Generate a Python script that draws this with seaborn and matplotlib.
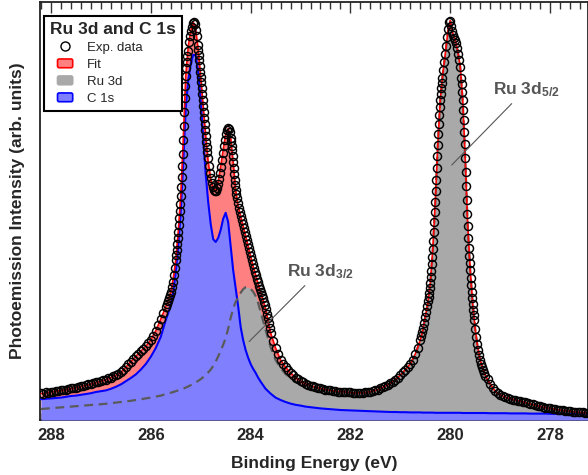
import numpy as np
import matplotlib
matplotlib.use("Agg")
import matplotlib.pyplot as plt
import matplotlib.patches as mpatches
from matplotlib.lines import Line2D
from matplotlib.legend_handler import HandlerPatch
from matplotlib.ticker import MultipleLocator
import seaborn as sns

# ---------------- data (binding energy in eV, intensity in arb. units) ----------------
# measurement grid of the experimental data: (start, stop, number of points);
# the steps are finer across the steep peak flanks
data_grid = [
    (288.20, 285.75, 50), (285.70, 285.52, 10), (285.50, 285.26, 25), (285.24, 285.08, 9),
    (285.06, 284.86, 21), (284.84, 284.42, 22), (284.40, 284.28, 13), (284.26, 283.60, 34),
    (283.55, 280.65, 59), (280.60, 280.46, 8), (280.44, 280.16, 29), (280.14, 279.80, 18),
    (279.78, 279.52, 27), (279.50, 279.30, 11), (279.25, 277.20, 42),
]
data_be = np.round(np.concatenate([np.linspace(a, b, n) for a, b, n in data_grid]), 2)

exp_data = [
    # 288.20 ... 285.75
    6.7, 6.5, 6.9, 6.8, 7.0, 7.1, 7.2, 7.3, 7.4, 7.5, 7.6, 7.8, 7.9, 8.0, 8.1, 8.3, 8.4, 8.5, 8.7, 8.9,
    9.0, 9.2, 9.4, 9.6, 9.8, 9.9, 10.1, 10.4, 10.6, 10.9, 11.3, 11.6, 12.0, 12.6, 13.2, 13.9, 14.6, 15.2, 15.9, 16.6,
    17.2, 17.8, 18.5, 19.2, 20.0, 21.1, 22.3, 23.7, 25.2, 26.8,
    # 285.70 ... 285.52
    28.3, 29.0, 29.7, 30.5, 31.2, 32.0, 33.2, 34.6, 36.2, 38.0,
    # 285.50 ... 285.26
    40.0, 41.3, 42.6, 44.0, 45.5, 47.1, 48.8, 50.5, 52.2, 54.0, 56.0, 58.3, 60.8, 63.5, 66.5, 70.0,
    73.5, 77.0, 80.5, 83.5, 86.0, 88.0, 89.5, 91.0, 92.3,
    # 285.24 ... 285.08
    94.5, 96.0, 97.2, 98.3, 99.3, 99.6, 98.9, 97.6, 95.9,
    # 285.06 ... 284.86
    93.8, 92.6, 91.3, 89.9, 88.5, 87.1, 85.8, 84.4, 82.9, 81.5, 80.0, 78.5, 77.0, 75.5, 74.0, 72.5,
    71.0, 69.6, 68.2, 66.9, 65.6,
    # 284.84 ... 284.42
    63.5, 61.8, 60.4, 59.2, 58.2, 57.6, 57.2, 57.3, 57.9, 58.9, 60.2, 61.7, 63.3, 65.0, 66.7, 68.4,
    70.0, 71.4, 72.4, 72.9, 72.8, 72.0,
    # 284.40 ... 284.28
    70.6, 69.7, 68.6, 67.4, 66.0, 64.5, 63.0, 61.5, 60.0, 58.7, 57.5, 56.5, 55.6,
    # 284.26 ... 283.60
    54.2, 53.0, 52.0, 51.0, 50.0, 49.0, 48.0, 47.0, 46.0, 45.0, 44.0, 43.0, 42.0, 41.0, 40.0, 39.0,
    38.0, 37.1, 36.2, 35.3, 34.4, 33.6, 32.8, 32.0, 31.2, 30.4, 29.6, 28.7, 27.8, 26.6, 25.4, 24.2,
    23.0, 21.8,
    # 283.55 ... 280.65
    19.8, 18.0, 16.4, 15.0, 14.0, 13.2, 12.5,
    11.8, 11.2, 10.6, 10.2, 9.8, 9.4, 9.1, 8.8, 8.6, 8.4, 8.2, 8.0, 7.9, 7.7, 7.6, 7.5, 7.4, 7.3, 7.2, 7.1,
    7.1, 7.0, 7.0, 6.9, 6.9, 6.8, 6.8, 6.7, 6.8, 6.8, 6.9, 7.0, 7.1, 7.2, 7.4, 7.6, 7.9, 8.2, 8.5, 8.8,
    9.2, 9.6, 10.1, 10.6, 11.2, 11.9, 12.6, 13.3, 14.0, 15.0, 16.5, 18.1,
    # 280.60 ... 280.46
    20.0, 21.0, 22.0, 23.0, 24.3, 25.8, 27.0, 28.4,
    # 280.44 ... 280.16
    29.8, 30.7, 31.8, 33.0, 34.2, 35.7, 37.3, 39.0, 40.8, 42.7, 44.8, 47.1, 49.5, 52.0, 54.5, 57.2,
    60.0, 63.0, 66.0, 68.8, 71.5, 74.0, 76.2, 78.2, 80.0, 81.6, 83.0, 84.3, 85.5,
    # 280.14 ... 279.80
    87.6, 89.5, 91.5, 93.6, 95.8, 97.8, 99.4, 99.8, 98.6, 97.2, 96.2, 95.5, 95.0, 94.2, 93.0, 91.5,
    90.0, 88.3,
    # 279.78 ... 279.52
    85.5, 83.9, 82.0, 79.9, 77.5, 74.9, 72.0, 68.9, 65.5, 62.0, 58.5, 55.0, 51.5, 48.4, 45.5, 43.1,
    41.0, 39.2, 37.5, 35.6, 33.8, 32.1, 30.5, 29.0, 27.5, 26.2, 25.0,
    # 279.50 ... 279.30
    22.8, 20.8, 19.0, 17.5, 16.2, 15.0, 14.0, 13.2, 12.4, 11.7, 11.0,
    # 279.25 ... 277.20
    10.2,
    9.0, 8.0, 7.2, 6.7, 6.3, 6.0, 5.7, 5.5, 5.3, 5.1, 5.0, 4.8, 4.7, 4.5, 4.4, 4.2, 4.0, 3.9, 3.7, 3.5,
    3.4, 3.3, 3.1, 3.0, 2.9, 2.8, 2.7, 2.6, 2.5, 2.4, 2.3, 2.3, 2.2, 2.1, 2.0, 2.0, 1.9, 1.9, 1.8, 1.8,
    1.75,
]

# grid of the fitted curves
curve_grid = [(288.2, 285.7, 26), (285.65, 283.85, 37), (283.8, 280.6, 33),
              (280.55, 279.35, 25), (279.3, 277.2, 22)]
curve_be = np.round(np.concatenate([np.linspace(a, b, n) for a, b, n in curve_grid]), 2)

fit_total = [
    6.6, 6.8, 7.0, 7.2, 7.4, 7.6, 7.9, 8.1, 8.4, 8.7, 9.0, 9.4, 9.7, 10.1, 10.6, 11.2, 11.9, 13.2, 14.6, 15.9,
    17.2, 18.4, 20.0, 22.3, 25.2, 28.3,
    30.1, 32.0, 35.4, 40.0, 47.1, 56.0, 70.0, 86.0, 93.4, 97.2, 99.5, 97.6, 92.6, 85.8, 78.5, 71.0, 64.5, 60.4,
    57.9, 57.3, 59.5, 63.3, 67.5, 71.4, 72.9, 70.6, 64.5, 57.5, 53.5, 51.0, 48.5, 46.0, 43.5, 41.0, 38.5, 36.2, 34.0,
    32.0, 27.8, 21.8, 18.0, 15.0, 13.2, 11.8, 10.6, 9.8, 9.1, 8.6, 8.2, 7.9, 7.6, 7.4, 7.2, 7.1, 7.0, 6.9, 6.8,
    6.8, 6.9, 7.1, 7.4, 7.9, 8.5, 9.2, 10.1, 11.2, 12.6, 14.0, 16.5, 20.0,
    22.5, 25.8, 29.1, 34.2, 42.8, 54.5, 68.8, 80.0, 86.6, 91.5, 96.8, 99.8, 96.7, 95.0, 92.3, 88.3, 79.8, 65.5,
    48.5, 37.5, 29.0, 22.8, 18.2, 15.0, 13.0,
    11.2, 9.0, 7.2, 6.3, 5.7, 5.3, 5.0, 4.7, 4.4, 4.0, 3.7, 3.4, 3.1, 2.9, 2.7, 2.5, 2.3, 2.2, 2.0, 1.9, 1.8, 1.75,
]

ru_3d = [
    2.75, 2.85, 2.95, 3.05, 3.15, 3.25, 3.35, 3.45, 3.55, 3.65, 3.75, 3.85, 3.95, 4.05, 4.2, 4.35, 4.5, 4.65, 4.8, 5.0,
    5.2, 5.4, 5.6, 5.85, 6.1, 6.45,
    6.6, 6.8, 7.0, 7.2, 7.4, 7.6, 7.85, 8.1, 8.4, 8.7, 9.05, 9.4, 9.8, 10.2, 10.7, 11.2, 11.9, 12.6,
    13.5, 14.6, 15.9, 17.3, 18.8, 20.5, 22.8, 25.5, 27.8, 29.5, 30.8, 31.8, 32.7, 33.2, 33.2, 32.8, 32.1, 31.0, 29.3,
    27.0, 22.5, 18.2, 15.0, 13.0, 11.5, 10.4, 9.6, 9.0, 8.6, 8.3, 8.0, 7.7, 7.45, 7.25, 7.05, 6.9, 6.8, 6.7, 6.65,
    6.65, 6.75, 6.95, 7.25, 7.75, 8.35, 9.05, 9.95, 11.05, 12.45, 13.9, 16.4, 19.9,
    22.4, 25.7, 29.0, 34.1, 42.7, 54.4, 68.7, 79.9, 86.5, 91.4, 96.7, 99.7, 96.6, 94.9, 92.2, 88.2, 79.7, 65.4,
    48.4, 37.4, 28.9, 22.7, 18.1, 14.9, 12.9,
    11.1, 8.9, 7.1, 6.2, 5.6, 5.2, 4.9, 4.6, 4.3, 3.9, 3.6, 3.3, 3.0, 2.8, 2.6, 2.4, 2.2, 2.1, 1.9, 1.8, 1.7, 1.65,
]

c_1s = [
    5.2, 5.3, 5.4, 5.5, 5.6, 5.8, 6.0, 6.1, 6.3, 6.5, 6.7, 7.0, 7.2, 7.4, 7.8, 8.3, 8.9, 9.7, 10.5, 11.4,
    12.6, 14.0, 15.8, 18.0, 20.8, 25.0,
    26.8, 28.7, 32.0, 37.0, 43.5, 52.0, 64.0, 78.0, 85.0, 89.0, 91.3, 91.2, 87.0, 80.0, 70.5, 61.5, 54.5, 49.0,
    45.2, 44.5, 45.5, 47.5, 50.3, 51.8, 49.5, 43.5, 37.5, 33.0, 28.5, 23.3, 20.0, 17.5, 15.6, 14.0, 12.8, 11.8, 10.6,
    9.6, 7.8, 6.6, 5.6, 5.0, 4.5, 4.1, 3.8, 3.6, 3.35, 3.2, 3.05, 2.9, 2.8, 2.7, 2.6, 2.5, 2.45, 2.4, 2.35,
    2.3, 2.25, 2.2, 2.15, 2.1, 2.05, 2.0, 2.0, 1.95, 1.95, 1.9, 1.9, 1.9,
    1.85, 1.85, 1.85, 1.85, 1.85, 1.8, 1.8, 1.8, 1.8, 1.8, 1.8, 1.8, 1.8, 1.8, 1.8, 1.8, 1.75, 1.75,
    1.75, 1.75, 1.75, 1.75, 1.75, 1.75, 1.75,
    1.75, 1.7, 1.7, 1.7, 1.7, 1.65, 1.65, 1.65, 1.65, 1.6, 1.6, 1.6, 1.6, 1.55, 1.55, 1.55, 1.55, 1.5, 1.5, 1.5, 1.5, 1.5,
]

xtick_vals = [288, 286, 284, 282, 280, 278]
xtick_labels = ["288", "286", "284", "282", "280", "278"]
legend_labels = ["Exp. data", "Fit", "Ru 3d", "C 1s"]
legend_title = "Ru 3d and C 1s"
peak_labels = [r"Ru 3d$_{5/2}$", r"Ru 3d$_{3/2}$"]

# ---------------- style ----------------
sns.set_style("ticks")
plt.rcParams['font.family'] = ['Liberation Sans', 'DejaVu Sans']
plt.rcParams['mathtext.fontset'] = 'custom'
plt.rcParams['mathtext.rm'] = 'Liberation Sans:bold'
plt.rcParams['mathtext.it'] = 'Liberation Sans:bold'
plt.rcParams['mathtext.bf'] = 'Liberation Sans:bold'

RED_FILL, RED_LINE = '#FF8080', '#FF0000'
GRAY_FILL, GRAY_LINE = '#A9A9A9', '#5A5A5A'
BLUE_FILL, BLUE_LINE = '#8080FF', '#0000FF'

fig = plt.figure(figsize=(5.88, 4.75), dpi=100)
ax = fig.add_axes([40 / 588, 1 - 420 / 475, 548 / 588, 418 / 475])

# fills
ax.fill_between(curve_be, 0, fit_total, color=RED_FILL, lw=0, zorder=1)
ax.fill_between(curve_be, 0, ru_3d, color=GRAY_FILL, lw=0, zorder=2)
ax.fill_between(curve_be, 0, c_1s, color=BLUE_FILL, lw=0, zorder=3)

# lines
sns.lineplot(x=curve_be, y=c_1s, color=BLUE_LINE, lw=1.5, ax=ax, sort=False,
             estimator=None, zorder=4)
sns.lineplot(x=curve_be, y=ru_3d, color=GRAY_LINE, lw=1.6, ax=ax, sort=False,
             estimator=None, linestyle=(0, (4, 2.5)), zorder=5)
sns.lineplot(x=curve_be, y=fit_total, color=RED_LINE, lw=1.2, ax=ax, sort=False,
             estimator=None, zorder=6)
sns.lineplot(x=data_be, y=exp_data, ax=ax, sort=False, estimator=None,
             marker='o', linestyle='none', markersize=5.8, markerfacecolor='none',
             markeredgecolor='black', markeredgewidth=1.05, zorder=7)

# axes
ax.set_xlim(288.22, 277.24)
ax.set_ylim(0, 104.5)
ax.set_xticks(xtick_vals)
ax.set_xticklabels(xtick_labels, fontweight='bold', fontsize=12)
ax.xaxis.set_minor_locator(MultipleLocator(0.2))
ax.set_yticks([])
ax.tick_params(axis='x', which='both', direction='in', top=True, bottom=True,
               color='#333333')
ax.tick_params(axis='x', which='major', length=8, width=1, pad=6)
ax.tick_params(axis='x', which='minor', length=5, width=1)
for s in ax.spines.values():
    s.set_linewidth(1.3)
    s.set_color('#222222')
ax.set_xlabel("Binding Energy (eV)", fontsize=12.5, fontweight='bold', labelpad=9)
ax.set_ylabel("Photoemission Intensity (arb. units)", fontsize=12.5,
              fontweight='bold', labelpad=11)

# annotations
ax.annotate(peak_labels[0], xy=(279.97, 63.75), xytext=(279.14, 82.5),
            ha='left', va='center', fontsize=12.5, fontweight='bold', color='#555555',
            arrowprops=dict(arrowstyle='-', color='#555555', lw=0.8,
                            shrinkA=1, shrinkB=0, relpos=(0.34, 0.0)), zorder=8)
ax.annotate(peak_labels[1], xy=(284.03, 19.6), xytext=(283.27, 37.0),
            ha='left', va='center', fontsize=12.5, fontweight='bold', color='#555555',
            arrowprops=dict(arrowstyle='-', color='#555555', lw=0.8,
                            shrinkA=1, shrinkB=0, relpos=(0.33, 0.0)), zorder=8)


# legend
def small_rect(legend, orig_handle, xdescent, ydescent, width, height, fontsize):
    w, h = width * 0.5, height * 0.8
    return mpatches.FancyBboxPatch((-xdescent + (width - w) / 2, -ydescent + (height - h) / 2),
                                   w, h, boxstyle="round,pad=0,rounding_size=1.2")


handles = [
    Line2D([], [], marker='o', ls='none', mfc='none', mec='black', ms=6.5, mew=1),
    mpatches.Patch(facecolor=RED_FILL, edgecolor=RED_LINE, lw=1.2),
    mpatches.Patch(facecolor=GRAY_FILL, edgecolor=GRAY_FILL, lw=1.2),
    mpatches.Patch(facecolor=BLUE_FILL, edgecolor=BLUE_LINE, lw=1.2),
]
hp = HandlerPatch(patch_func=small_rect)
leg = ax.legend(handles, legend_labels, title=legend_title,
                title_fontproperties={'weight': 'bold', 'size': 12.5},
                loc='upper left', bbox_to_anchor=(4 / 548, (420 - 16) / 418),
                borderaxespad=0, fontsize=9.5, handlelength=2.3, handleheight=0.9,
                handletextpad=0.5, borderpad=0.45, labelspacing=0.3,
                fancybox=False, framealpha=1, edgecolor='black', alignment='left',
                handler_map={mpatches.Patch: hp})
leg.get_frame().set_linewidth(1.5)
leg.set_zorder(10)

fig.savefig("out.png", dpi=100)
